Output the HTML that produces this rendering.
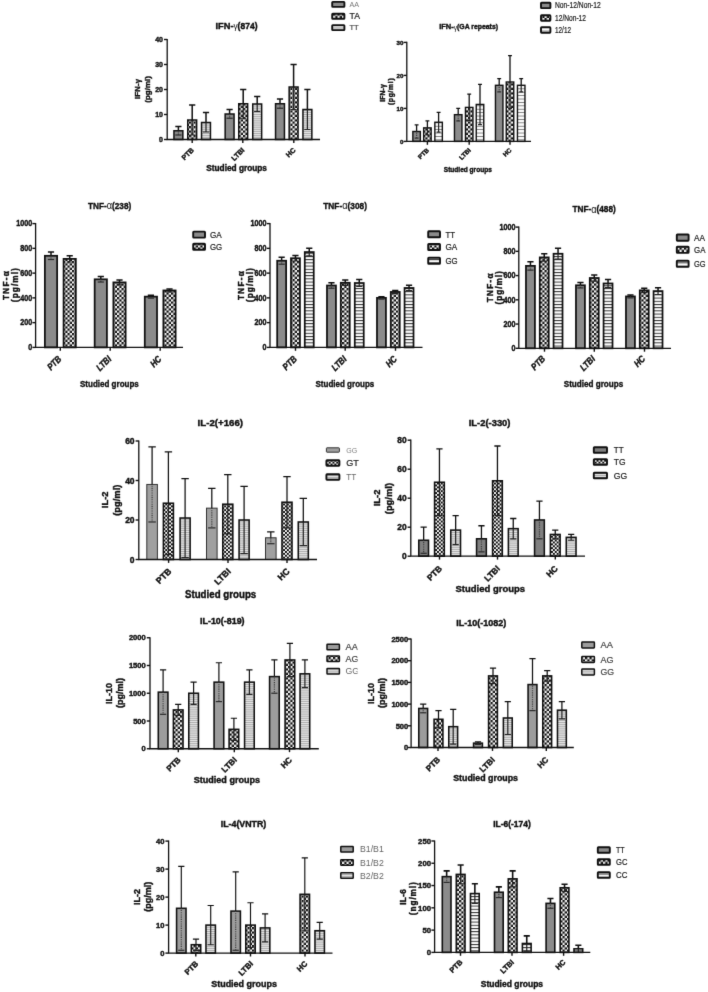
<!DOCTYPE html>
<html lang="en">
<head>
<meta charset="utf-8">
<title>Cytokine levels by genotype in studied groups</title>
<style>
html,body{margin:0;padding:0;background:#ffffff;}
body{width:708px;height:992px;overflow:hidden;font-family:"Liberation Sans",sans-serif;}
svg{display:block;}
</style>
</head>
<body>
<svg width="708" height="992" viewBox="0 0 708 992" font-family='"Liberation Sans", sans-serif'>
<defs>
<filter id="soft" x="0" y="0" width="708" height="992" filterUnits="userSpaceOnUse" color-interpolation-filters="sRGB"><feConvolveMatrix order="3" kernelMatrix="0.012 0.11 0.012 0.11 1 0.11 0.012 0.11 0.012" edgeMode="duplicate" preserveAlpha="true"/></filter>
<pattern id="checker" width="3.8" height="3.8" patternUnits="userSpaceOnUse"><rect width="3.8" height="3.8" fill="#fcfcfc"/><rect x="0" y="0" width="1.9" height="1.9" fill="#0c0c0c"/><rect x="1.9" y="1.9" width="1.9" height="1.9" fill="#0c0c0c"/></pattern>
<pattern id="hfine" width="4" height="1.9" patternUnits="userSpaceOnUse"><rect width="4" height="1.9" fill="#e8e8e8"/><rect y="0" width="4" height="0.8" fill="#a2a2a2"/></pattern>
<pattern id="hmid" width="4" height="3.4" patternUnits="userSpaceOnUse"><rect width="4" height="3.4" fill="#fbfbfb"/><rect y="0" width="4" height="0.8" fill="#6e6e6e"/></pattern>
<pattern id="hwide" width="4" height="3.2" patternUnits="userSpaceOnUse"><rect width="4" height="3.2" fill="#fdfdfd"/><rect y="0" width="4" height="0.95" fill="#2a2a2a"/></pattern>
<pattern id="hwide2" width="4" height="4.4" patternUnits="userSpaceOnUse"><rect width="4" height="4.4" fill="#fdfdfd"/><rect y="0" width="4" height="1.0" fill="#333"/></pattern>
<pattern id="checkerL" width="4.5" height="4.5" patternUnits="userSpaceOnUse"><rect width="4.5" height="4.5" fill="#fdfdfd"/><rect x="0" y="0" width="2.25" height="2.25" fill="#0a0a0a"/><rect x="2.25" y="2.25" width="2.25" height="2.25" fill="#0a0a0a"/></pattern>
</defs>
<g filter="url(#soft)">
<rect width="708" height="992" fill="#ffffff"/>
<g>
<rect x="173.95" y="130.75" width="8.9" height="8.75" fill="#8b8b8b" stroke="#101010" stroke-width="1.5"/>
<path d="M178.4 130.75 V126.5 M175.3 126.5 H181.5" stroke="#101010" stroke-width="1.5" fill="none"/>
<path d="M178.4 130.75 V135" stroke="#3a3a3a" stroke-width="1.2" stroke-dasharray="0.9 0.9" fill="none"/>
<path d="M175.3 135 H181.5" stroke="#2a2a2a" stroke-width="1.2" fill="none"/>
<rect x="187.75" y="120" width="8.9" height="19.5" fill="url(#checkerL)" stroke="#101010" stroke-width="1.5"/>
<path d="M192.2 120 V105 M189.1 105 H195.3" stroke="#101010" stroke-width="1.5" fill="none"/>
<path d="M192.2 120 V135 M189.1 135 H195.3" stroke="#222" stroke-width="1.2" fill="none"/>
<rect x="201.55" y="122.5" width="8.9" height="17" fill="url(#hfine)" stroke="#101010" stroke-width="1.5"/>
<path d="M206 122.5 V112.5 M202.9 112.5 H209.1" stroke="#101010" stroke-width="1.5" fill="none"/>
<path d="M206 122.5 V132 M202.9 132 H209.1" stroke="#222" stroke-width="1.2" fill="none"/>
<rect x="225.15" y="114" width="8.9" height="25.5" fill="#8b8b8b" stroke="#101010" stroke-width="1.5"/>
<path d="M229.6 114 V109.5 M226.5 109.5 H232.7" stroke="#101010" stroke-width="1.5" fill="none"/>
<path d="M229.6 114 V118.25" stroke="#3a3a3a" stroke-width="1.2" stroke-dasharray="0.9 0.9" fill="none"/>
<path d="M226.5 118.25 H232.7" stroke="#2a2a2a" stroke-width="1.2" fill="none"/>
<rect x="238.75" y="103.75" width="8.9" height="35.75" fill="url(#checkerL)" stroke="#101010" stroke-width="1.5"/>
<path d="M243.2 103.75 V89.5 M240.1 89.5 H246.3" stroke="#101010" stroke-width="1.5" fill="none"/>
<path d="M243.2 103.75 V118.25 M240.1 118.25 H246.3" stroke="#222" stroke-width="1.2" fill="none"/>
<rect x="252.75" y="104" width="8.9" height="35.5" fill="url(#hfine)" stroke="#101010" stroke-width="1.5"/>
<path d="M257.2 104 V96.5 M254.1 96.5 H260.3" stroke="#101010" stroke-width="1.5" fill="none"/>
<path d="M257.2 104 V111.5 M254.1 111.5 H260.3" stroke="#222" stroke-width="1.2" fill="none"/>
<rect x="275.55" y="103.75" width="8.9" height="35.75" fill="#8b8b8b" stroke="#101010" stroke-width="1.5"/>
<path d="M280 103.75 V99 M276.9 99 H283.1" stroke="#101010" stroke-width="1.5" fill="none"/>
<path d="M280 103.75 V108.25" stroke="#3a3a3a" stroke-width="1.2" stroke-dasharray="0.9 0.9" fill="none"/>
<path d="M276.9 108.25 H283.1" stroke="#2a2a2a" stroke-width="1.2" fill="none"/>
<rect x="289.15" y="87" width="8.9" height="52.5" fill="url(#checkerL)" stroke="#101010" stroke-width="1.5"/>
<path d="M293.6 87 V64.5 M290.5 64.5 H296.7" stroke="#101010" stroke-width="1.5" fill="none"/>
<path d="M293.6 87 V109.5 M290.5 109.5 H296.7" stroke="#222" stroke-width="1.2" fill="none"/>
<rect x="302.95" y="109.5" width="8.9" height="30" fill="url(#hfine)" stroke="#101010" stroke-width="1.5"/>
<path d="M307.4 109.5 V89.5 M304.3 89.5 H310.5" stroke="#101010" stroke-width="1.5" fill="none"/>
<path d="M307.4 109.5 V129.5 M304.3 129.5 H310.5" stroke="#222" stroke-width="1.2" fill="none"/>
<path d="M167.2 38.9 V139.5 H320" stroke="#101010" stroke-width="1.3" fill="none"/>
<path d="M164 139.5 H167.2" stroke="#101010" stroke-width="1.4"/>
<text x="163" y="142.02" font-size="7" font-weight="bold" text-anchor="end" fill="#101010" stroke="#101010" stroke-width="0.4">0</text>
<path d="M164 114.5 H167.2" stroke="#101010" stroke-width="1.4"/>
<text x="163" y="117.02" font-size="7" font-weight="bold" text-anchor="end" fill="#101010" stroke="#101010" stroke-width="0.4">10</text>
<path d="M164 89.5 H167.2" stroke="#101010" stroke-width="1.4"/>
<text x="163" y="92.02" font-size="7" font-weight="bold" text-anchor="end" fill="#101010" stroke="#101010" stroke-width="0.4">20</text>
<path d="M164 64.5 H167.2" stroke="#101010" stroke-width="1.4"/>
<text x="163" y="67.02" font-size="7" font-weight="bold" text-anchor="end" fill="#101010" stroke="#101010" stroke-width="0.4">30</text>
<path d="M164 39.5 H167.2" stroke="#101010" stroke-width="1.4"/>
<text x="163" y="42.02" font-size="7" font-weight="bold" text-anchor="end" fill="#101010" stroke="#101010" stroke-width="0.4">40</text>
<path d="M192.2 139.5 V142.9" stroke="#101010" stroke-width="1.4"/>
<text transform="translate(194.4 150.6) rotate(-45)" font-size="7" font-weight="bold" text-anchor="end" fill="#101010" stroke="#101010" stroke-width="0.4">PTB</text>
<path d="M242.8 139.5 V142.9" stroke="#101010" stroke-width="1.4"/>
<text transform="translate(245 150.6) rotate(-45)" font-size="7" font-weight="bold" text-anchor="end" fill="#101010" stroke="#101010" stroke-width="0.4">LTBI</text>
<path d="M293.8 139.5 V142.9" stroke="#101010" stroke-width="1.4"/>
<text transform="translate(296 150.6) rotate(-45)" font-size="7" font-weight="bold" text-anchor="end" fill="#101010" stroke="#101010" stroke-width="0.4">HC</text>
<text x="215.5" y="28.81" font-size="9.2" font-weight="bold" text-anchor="start" fill="#101010" textLength="17.98" lengthAdjust="spacingAndGlyphs" stroke="#101010" stroke-width="0.4">IFN-</text>
<text x="233.48" y="29.21" font-size="8.28" font-weight="normal" text-anchor="start" fill="#101010" textLength="4.16" lengthAdjust="spacingAndGlyphs">γ</text>
<text x="237.64" y="28.81" font-size="8.46" font-weight="bold" text-anchor="start" fill="#101010" textLength="19.86" lengthAdjust="spacingAndGlyphs" stroke="#101010" stroke-width="0.4">(874)</text>
<text transform="translate(139.61 89) rotate(-90)" font-size="7.8" font-weight="bold" text-anchor="middle" fill="#101010" textLength="20" lengthAdjust="spacing" stroke="#101010" stroke-width="0.4">IFN-γ</text>
<text transform="translate(149.51 89.4) rotate(-90)" font-size="7.8" font-weight="bold" text-anchor="middle" fill="#101010" textLength="26.7" lengthAdjust="spacing" stroke="#101010" stroke-width="0.4">(pg/ml)</text>
<text x="236.6" y="170.6" font-size="8.52" font-weight="bold" text-anchor="middle" fill="#101010" textLength="60.7" lengthAdjust="spacingAndGlyphs" stroke="#101010" stroke-width="0.4">Studied groups</text>
<rect x="332.2" y="1.9" width="12.2" height="5" rx="0.6" fill="#8b8b8b" stroke="#101010" stroke-width="1.9"/>
<text x="349.5" y="6.78" font-size="6.6" font-weight="normal" text-anchor="start" fill="#777" textLength="9.5" lengthAdjust="spacingAndGlyphs">AA</text>
<rect x="332.2" y="13.8" width="12.2" height="5" rx="0.6" fill="url(#checkerL)" stroke="#101010" stroke-width="1.9"/>
<text x="349.5" y="19.25" font-size="8.2" font-weight="normal" text-anchor="start" fill="#1a1a1a" textLength="10.4" lengthAdjust="spacingAndGlyphs" stroke="#1a1a1a" stroke-width="0.2">TA</text>
<rect x="332.2" y="25.1" width="12.2" height="5" rx="0.6" fill="url(#hfine)" stroke="#101010" stroke-width="1.9"/>
<text x="349.5" y="30.48" font-size="8" font-weight="normal" text-anchor="start" fill="#444" textLength="9.2" lengthAdjust="spacingAndGlyphs" stroke="#444" stroke-width="0.2">TT</text>
</g>
<g>
<rect x="412.85" y="131.5" width="7.5" height="9.9" fill="#8b8b8b" stroke="#101010" stroke-width="1.4"/>
<path d="M416.6 131.5 V124.9 M414.65 124.9 H418.55" stroke="#101010" stroke-width="1.3" fill="none"/>
<path d="M416.6 131.5 V138.1" stroke="#3a3a3a" stroke-width="1.2" stroke-dasharray="0.9 0.9" fill="none"/>
<path d="M414.65 138.1 H418.55" stroke="#2a2a2a" stroke-width="1.2" fill="none"/>
<rect x="423.65" y="127.87" width="7.5" height="13.53" fill="url(#checkerL)" stroke="#101010" stroke-width="1.4"/>
<path d="M427.4 127.87 V120.94 M425.45 120.94 H429.35" stroke="#101010" stroke-width="1.3" fill="none"/>
<path d="M427.4 127.87 V134.8 M425.45 134.8 H429.35" stroke="#222" stroke-width="1.2" fill="none"/>
<rect x="434.85" y="122.26" width="7.5" height="19.14" fill="url(#hmid)" stroke="#101010" stroke-width="1.4"/>
<path d="M438.6 122.26 V112.36 M436.65 112.36 H440.55" stroke="#101010" stroke-width="1.3" fill="none"/>
<path d="M438.6 122.26 V132.16 M436.65 132.16 H440.55" stroke="#222" stroke-width="1.2" fill="none"/>
<rect x="454.45" y="114.67" width="7.5" height="26.73" fill="#8b8b8b" stroke="#101010" stroke-width="1.4"/>
<path d="M458.2 114.67 V108.4 M456.25 108.4 H460.15" stroke="#101010" stroke-width="1.3" fill="none"/>
<path d="M458.2 114.67 V120.94" stroke="#3a3a3a" stroke-width="1.2" stroke-dasharray="0.9 0.9" fill="none"/>
<path d="M456.25 120.94 H460.15" stroke="#2a2a2a" stroke-width="1.2" fill="none"/>
<rect x="465.45" y="107.41" width="7.5" height="33.99" fill="url(#checkerL)" stroke="#101010" stroke-width="1.4"/>
<path d="M469.2 107.41 V94.21 M467.25 94.21 H471.15" stroke="#101010" stroke-width="1.3" fill="none"/>
<path d="M469.2 107.41 V120.61 M467.25 120.61 H471.15" stroke="#222" stroke-width="1.2" fill="none"/>
<rect x="476.25" y="104.44" width="7.5" height="36.96" fill="url(#hmid)" stroke="#101010" stroke-width="1.4"/>
<path d="M480 104.44 V84.31 M478.05 84.31 H481.95" stroke="#101010" stroke-width="1.3" fill="none"/>
<path d="M480 104.44 V124.57 M478.05 124.57 H481.95" stroke="#222" stroke-width="1.2" fill="none"/>
<rect x="495.45" y="85.3" width="7.5" height="56.1" fill="#8b8b8b" stroke="#101010" stroke-width="1.4"/>
<path d="M499.2 85.3 V78.7 M497.25 78.7 H501.15" stroke="#101010" stroke-width="1.3" fill="none"/>
<path d="M499.2 85.3 V91.9" stroke="#3a3a3a" stroke-width="1.2" stroke-dasharray="0.9 0.9" fill="none"/>
<path d="M497.25 91.9 H501.15" stroke="#2a2a2a" stroke-width="1.2" fill="none"/>
<rect x="506.25" y="82" width="7.5" height="59.4" fill="url(#checkerL)" stroke="#101010" stroke-width="1.4"/>
<path d="M510 82 V55.6 M508.05 55.6 H511.95" stroke="#101010" stroke-width="1.3" fill="none"/>
<path d="M510 82 V108.4 M508.05 108.4 H511.95" stroke="#222" stroke-width="1.2" fill="none"/>
<rect x="517.45" y="85.3" width="7.5" height="56.1" fill="url(#hmid)" stroke="#101010" stroke-width="1.4"/>
<path d="M521.2 85.3 V78.7 M519.25 78.7 H523.15" stroke="#101010" stroke-width="1.3" fill="none"/>
<path d="M521.2 85.3 V91.9 M519.25 91.9 H523.15" stroke="#222" stroke-width="1.2" fill="none"/>
<path d="M406.8 41.8 V141.4 H531" stroke="#101010" stroke-width="1.3" fill="none"/>
<path d="M403.6 141.4 H406.8" stroke="#101010" stroke-width="1.4"/>
<text x="403.5" y="143.63" font-size="6.2" font-weight="bold" text-anchor="end" fill="#101010" stroke="#101010" stroke-width="0.4">0</text>
<path d="M403.6 108.4 H406.8" stroke="#101010" stroke-width="1.4"/>
<text x="403.5" y="110.63" font-size="6.2" font-weight="bold" text-anchor="end" fill="#101010" stroke="#101010" stroke-width="0.4">10</text>
<path d="M403.6 75.4 H406.8" stroke="#101010" stroke-width="1.4"/>
<text x="403.5" y="77.63" font-size="6.2" font-weight="bold" text-anchor="end" fill="#101010" stroke="#101010" stroke-width="0.4">20</text>
<path d="M403.6 42.4 H406.8" stroke="#101010" stroke-width="1.4"/>
<text x="403.5" y="44.63" font-size="6.2" font-weight="bold" text-anchor="end" fill="#101010" stroke="#101010" stroke-width="0.4">30</text>
<path d="M427.4 141.4 V144.8" stroke="#101010" stroke-width="1.4"/>
<text transform="translate(429.4 150.7) rotate(-45)" font-size="6.24" font-weight="bold" text-anchor="end" fill="#101010" stroke="#101010" stroke-width="0.4">PTB</text>
<path d="M469.2 141.4 V144.8" stroke="#101010" stroke-width="1.4"/>
<text transform="translate(471.2 150.7) rotate(-45)" font-size="6.24" font-weight="bold" text-anchor="end" fill="#101010" stroke="#101010" stroke-width="0.4">LTBI</text>
<path d="M510 141.4 V144.8" stroke="#101010" stroke-width="1.4"/>
<text transform="translate(512 150.7) rotate(-45)" font-size="6.24" font-weight="bold" text-anchor="end" fill="#101010" stroke="#101010" stroke-width="0.4">HC</text>
<text x="439.2" y="29.44" font-size="7.9" font-weight="bold" text-anchor="start" fill="#101010" textLength="14.5" lengthAdjust="spacingAndGlyphs" stroke="#101010" stroke-width="0.4">IFN-</text>
<text x="453.7" y="29.84" font-size="7.11" font-weight="normal" text-anchor="start" fill="#101010" textLength="3.36" lengthAdjust="spacingAndGlyphs">γ</text>
<text x="457.06" y="29.44" font-size="7.27" font-weight="bold" text-anchor="start" fill="#101010" textLength="40.94" lengthAdjust="spacingAndGlyphs" stroke="#101010" stroke-width="0.4">(GA repeats)</text>
<text transform="translate(384.75 93) rotate(-90)" font-size="6.8" font-weight="bold" text-anchor="middle" fill="#101010" textLength="17.6" lengthAdjust="spacing" stroke="#101010" stroke-width="0.4">IFN-γ</text>
<text transform="translate(393.25 91.7) rotate(-90)" font-size="6.8" font-weight="bold" text-anchor="middle" fill="#101010" textLength="26.8" lengthAdjust="spacing" stroke="#101010" stroke-width="0.4">(pg/ml)</text>
<text x="467.8" y="172" font-size="6.74" font-weight="bold" text-anchor="middle" fill="#101010" textLength="48" lengthAdjust="spacingAndGlyphs" stroke="#101010" stroke-width="0.4">Studied groups</text>
<rect x="541" y="2.7" width="9.4" height="5.4" rx="0.6" fill="#8b8b8b" stroke="#101010" stroke-width="1.9"/>
<text x="555" y="8.35" font-size="8.2" font-weight="normal" text-anchor="start" fill="#1a1a1a" textLength="45.8" lengthAdjust="spacingAndGlyphs" stroke="#1a1a1a" stroke-width="0.2">Non-12/Non-12</text>
<rect x="541" y="15.3" width="9.4" height="5.4" rx="0.6" fill="url(#checkerL)" stroke="#101010" stroke-width="1.9"/>
<text x="555" y="20.95" font-size="8.2" font-weight="normal" text-anchor="start" fill="#1a1a1a" textLength="31" lengthAdjust="spacingAndGlyphs" stroke="#1a1a1a" stroke-width="0.2">12/Non-12</text>
<rect x="541" y="27.3" width="9.4" height="5.4" rx="0.6" fill="url(#hmid)" stroke="#101010" stroke-width="1.9"/>
<text x="555" y="32.95" font-size="8.2" font-weight="normal" text-anchor="start" fill="#1a1a1a" textLength="16" lengthAdjust="spacingAndGlyphs" stroke="#1a1a1a" stroke-width="0.2">12/12</text>
</g>
<g>
<rect x="44.88" y="255.79" width="12.25" height="91.61" fill="#8b8b8b" stroke="#101010" stroke-width="1.75"/>
<path d="M51 255.79 V252.07 M47.9 252.07 H54.1" stroke="#101010" stroke-width="1.5" fill="none"/>
<path d="M51 255.79 V259.5" stroke="#3a3a3a" stroke-width="1.2" stroke-dasharray="0.9 0.9" fill="none"/>
<path d="M47.9 259.5 H54.1" stroke="#2a2a2a" stroke-width="1.2" fill="none"/>
<rect x="63.58" y="258.88" width="12.25" height="88.52" fill="url(#checkerL)" stroke="#101010" stroke-width="1.75"/>
<path d="M69.7 258.88 V255.79 M66.6 255.79 H72.8" stroke="#101010" stroke-width="1.5" fill="none"/>
<path d="M69.7 258.88 V261.98 M66.6 261.98 H72.8" stroke="#222" stroke-width="1.2" fill="none"/>
<rect x="94.67" y="279.31" width="12.25" height="68.09" fill="#8b8b8b" stroke="#101010" stroke-width="1.75"/>
<path d="M100.8 279.31 V276.59 M97.7 276.59 H103.9" stroke="#101010" stroke-width="1.5" fill="none"/>
<path d="M100.8 279.31 V282.03" stroke="#3a3a3a" stroke-width="1.2" stroke-dasharray="0.9 0.9" fill="none"/>
<path d="M97.7 282.03 H103.9" stroke="#2a2a2a" stroke-width="1.2" fill="none"/>
<rect x="113.38" y="282.4" width="12.25" height="65" fill="url(#checkerL)" stroke="#101010" stroke-width="1.75"/>
<path d="M119.5 282.4 V279.93 M116.4 279.93 H122.6" stroke="#101010" stroke-width="1.5" fill="none"/>
<path d="M119.5 282.4 V284.88 M116.4 284.88 H122.6" stroke="#222" stroke-width="1.2" fill="none"/>
<rect x="144.78" y="296.64" width="12.25" height="50.76" fill="#8b8b8b" stroke="#101010" stroke-width="1.75"/>
<path d="M150.9 296.64 V295.16 M147.8 295.16 H154" stroke="#101010" stroke-width="1.5" fill="none"/>
<path d="M150.9 296.64 V298.13" stroke="#3a3a3a" stroke-width="1.2" stroke-dasharray="0.9 0.9" fill="none"/>
<path d="M147.8 298.13 H154" stroke="#2a2a2a" stroke-width="1.2" fill="none"/>
<rect x="163.38" y="290.45" width="12.25" height="56.95" fill="url(#checkerL)" stroke="#101010" stroke-width="1.75"/>
<path d="M169.5 290.45 V288.97 M166.4 288.97 H172.6" stroke="#101010" stroke-width="1.5" fill="none"/>
<path d="M169.5 290.45 V291.94 M166.4 291.94 H172.6" stroke="#222" stroke-width="1.2" fill="none"/>
<path d="M35.6 223 V347.4 H183" stroke="#101010" stroke-width="1.3" fill="none"/>
<path d="M32.4 347.4 H35.6" stroke="#101010" stroke-width="1.4"/>
<text x="32.2" y="350.19" font-size="8.57" font-weight="bold" text-anchor="end" fill="#101010" textLength="4" lengthAdjust="spacingAndGlyphs" stroke="#101010" stroke-width="0.4">0</text>
<path d="M32.4 322.64 H35.6" stroke="#101010" stroke-width="1.4"/>
<text x="32.2" y="325.43" font-size="8.57" font-weight="bold" text-anchor="end" fill="#101010" textLength="12.01" lengthAdjust="spacingAndGlyphs" stroke="#101010" stroke-width="0.4">200</text>
<path d="M32.4 297.88 H35.6" stroke="#101010" stroke-width="1.4"/>
<text x="32.2" y="300.67" font-size="8.57" font-weight="bold" text-anchor="end" fill="#101010" textLength="12.01" lengthAdjust="spacingAndGlyphs" stroke="#101010" stroke-width="0.4">400</text>
<path d="M32.4 273.12 H35.6" stroke="#101010" stroke-width="1.4"/>
<text x="32.2" y="275.91" font-size="8.57" font-weight="bold" text-anchor="end" fill="#101010" textLength="12.01" lengthAdjust="spacingAndGlyphs" stroke="#101010" stroke-width="0.4">600</text>
<path d="M32.4 248.36 H35.6" stroke="#101010" stroke-width="1.4"/>
<text x="32.2" y="251.15" font-size="8.57" font-weight="bold" text-anchor="end" fill="#101010" textLength="12.01" lengthAdjust="spacingAndGlyphs" stroke="#101010" stroke-width="0.4">800</text>
<path d="M32.4 223.6 H35.6" stroke="#101010" stroke-width="1.4"/>
<text x="32.2" y="226.39" font-size="8.57" font-weight="bold" text-anchor="end" fill="#101010" textLength="16.02" lengthAdjust="spacingAndGlyphs" stroke="#101010" stroke-width="0.4">1000</text>
<path d="M60.3 347.4 V350.8" stroke="#101010" stroke-width="1.4"/>
<text transform="translate(62.05 359.6) rotate(-45)" font-size="9.4" font-weight="bold" text-anchor="end" fill="#101010" textLength="15.8" lengthAdjust="spacingAndGlyphs" stroke="#101010" stroke-width="0.4" font-style="italic">PTB</text>
<path d="M110.2 347.4 V350.8" stroke="#101010" stroke-width="1.4"/>
<text transform="translate(111.95 359.6) rotate(-45)" font-size="9.4" font-weight="bold" text-anchor="end" fill="#101010" textLength="16.96" lengthAdjust="spacingAndGlyphs" stroke="#101010" stroke-width="0.4" font-style="italic">LTBI</text>
<path d="M160.2 347.4 V350.8" stroke="#101010" stroke-width="1.4"/>
<text transform="translate(161.95 359.6) rotate(-45)" font-size="9.4" font-weight="bold" text-anchor="end" fill="#101010" textLength="11.41" lengthAdjust="spacingAndGlyphs" stroke="#101010" stroke-width="0.4" font-style="italic">HC</text>
<text x="87.95" y="208.66" font-size="9.6" font-weight="bold" text-anchor="start" fill="#101010" textLength="18.75" lengthAdjust="spacingAndGlyphs" stroke="#101010" stroke-width="0.4">TNF-</text>
<text x="106.7" y="209.06" font-size="10.75" font-weight="normal" text-anchor="start" fill="#101010" textLength="5.33" lengthAdjust="spacingAndGlyphs">α</text>
<text x="112.03" y="208.66" font-size="9.6" font-weight="bold" text-anchor="start" fill="#101010" textLength="19.22" lengthAdjust="spacingAndGlyphs" stroke="#101010" stroke-width="0.4">(238)</text>
<text transform="translate(9.25 285.6) rotate(-90)" font-size="8.2" font-weight="bold" text-anchor="middle" fill="#101010" textLength="28.8" lengthAdjust="spacing" stroke="#101010" stroke-width="0.4">TNF-α</text>
<text transform="translate(18.05 285.2) rotate(-90)" font-size="8.2" font-weight="bold" text-anchor="middle" fill="#101010" textLength="34" lengthAdjust="spacing" stroke="#101010" stroke-width="0.4">(pg/ml)</text>
<text x="109.4" y="386.5" font-size="9.83" font-weight="bold" text-anchor="middle" fill="#101010" textLength="58.8" lengthAdjust="spacingAndGlyphs" stroke="#101010" stroke-width="0.4">Studied groups</text>
<rect x="193.2" y="231.6" width="11.8" height="6" rx="0.6" fill="#8b8b8b" stroke="#101010" stroke-width="1.9"/>
<text x="210" y="237.84" font-size="9" font-weight="normal" text-anchor="start" fill="#1a1a1a" textLength="11.8" lengthAdjust="spacingAndGlyphs" stroke="#1a1a1a" stroke-width="0.2">GA</text>
<rect x="193.2" y="243.8" width="11.8" height="6" rx="0.6" fill="url(#checkerL)" stroke="#101010" stroke-width="1.9"/>
<text x="210" y="250.04" font-size="9" font-weight="normal" text-anchor="start" fill="#1a1a1a" textLength="12.2" lengthAdjust="spacingAndGlyphs" stroke="#1a1a1a" stroke-width="0.2">GG</text>
</g>
<g>
<rect x="277.18" y="260.74" width="8.95" height="86.66" fill="#8b8b8b" stroke="#101010" stroke-width="1.75"/>
<path d="M281.65 260.74 V257.27 M278.55 257.27 H284.75" stroke="#101010" stroke-width="1.5" fill="none"/>
<path d="M281.65 260.74 V264.21" stroke="#3a3a3a" stroke-width="1.2" stroke-dasharray="0.9 0.9" fill="none"/>
<path d="M278.55 264.21 H284.75" stroke="#2a2a2a" stroke-width="1.2" fill="none"/>
<rect x="290.98" y="258.26" width="8.95" height="89.14" fill="url(#checkerL)" stroke="#101010" stroke-width="1.75"/>
<path d="M295.45 258.26 V255.54 M292.35 255.54 H298.55" stroke="#101010" stroke-width="1.5" fill="none"/>
<path d="M295.45 258.26 V260.99 M292.35 260.99 H298.55" stroke="#222" stroke-width="1.2" fill="none"/>
<rect x="304.78" y="252.07" width="8.95" height="95.33" fill="url(#hwide)" stroke="#101010" stroke-width="1.75"/>
<path d="M309.25 252.07 V248.36 M306.15 248.36 H312.35" stroke="#101010" stroke-width="1.5" fill="none"/>
<path d="M309.25 252.07 V255.79 M306.15 255.79 H312.35" stroke="#222" stroke-width="1.2" fill="none"/>
<rect x="326.98" y="285.5" width="8.95" height="61.9" fill="#8b8b8b" stroke="#101010" stroke-width="1.75"/>
<path d="M331.45 285.5 V282.78 M328.35 282.78 H334.55" stroke="#101010" stroke-width="1.5" fill="none"/>
<path d="M331.45 285.5 V288.22" stroke="#3a3a3a" stroke-width="1.2" stroke-dasharray="0.9 0.9" fill="none"/>
<path d="M328.35 288.22 H334.55" stroke="#2a2a2a" stroke-width="1.2" fill="none"/>
<rect x="340.78" y="282.78" width="8.95" height="64.62" fill="url(#checkerL)" stroke="#101010" stroke-width="1.75"/>
<path d="M345.25 282.78 V280.05 M342.15 280.05 H348.35" stroke="#101010" stroke-width="1.5" fill="none"/>
<path d="M345.25 282.78 V285.5 M342.15 285.5 H348.35" stroke="#222" stroke-width="1.2" fill="none"/>
<rect x="354.78" y="283.02" width="8.95" height="64.38" fill="url(#hwide)" stroke="#101010" stroke-width="1.75"/>
<path d="M359.25 283.02 V279.56 M356.15 279.56 H362.35" stroke="#101010" stroke-width="1.5" fill="none"/>
<path d="M359.25 283.02 V286.49 M356.15 286.49 H362.35" stroke="#222" stroke-width="1.2" fill="none"/>
<rect x="376.98" y="297.88" width="8.95" height="49.52" fill="#8b8b8b" stroke="#101010" stroke-width="1.75"/>
<path d="M381.45 297.88 V296.64 M378.35 296.64 H384.55" stroke="#101010" stroke-width="1.5" fill="none"/>
<path d="M381.45 297.88 V299.12" stroke="#3a3a3a" stroke-width="1.2" stroke-dasharray="0.9 0.9" fill="none"/>
<path d="M378.35 299.12 H384.55" stroke="#2a2a2a" stroke-width="1.2" fill="none"/>
<rect x="390.78" y="291.94" width="8.95" height="55.46" fill="url(#checkerL)" stroke="#101010" stroke-width="1.75"/>
<path d="M395.25 291.94 V290.45 M392.15 290.45 H398.35" stroke="#101010" stroke-width="1.5" fill="none"/>
<path d="M395.25 291.94 V293.42 M392.15 293.42 H398.35" stroke="#222" stroke-width="1.2" fill="none"/>
<rect x="404.57" y="287.98" width="8.95" height="59.42" fill="url(#hwide)" stroke="#101010" stroke-width="1.75"/>
<path d="M409.05 287.98 V285.25 M405.95 285.25 H412.15" stroke="#101010" stroke-width="1.5" fill="none"/>
<path d="M409.05 287.98 V290.7 M405.95 290.7 H412.15" stroke="#222" stroke-width="1.2" fill="none"/>
<path d="M270 223 V347.4 H422.5" stroke="#101010" stroke-width="1.3" fill="none"/>
<path d="M266.8 347.4 H270" stroke="#101010" stroke-width="1.4"/>
<text x="266.6" y="350.19" font-size="8.57" font-weight="bold" text-anchor="end" fill="#101010" textLength="4" lengthAdjust="spacingAndGlyphs" stroke="#101010" stroke-width="0.4">0</text>
<path d="M266.8 322.64 H270" stroke="#101010" stroke-width="1.4"/>
<text x="266.6" y="325.43" font-size="8.57" font-weight="bold" text-anchor="end" fill="#101010" textLength="12.01" lengthAdjust="spacingAndGlyphs" stroke="#101010" stroke-width="0.4">200</text>
<path d="M266.8 297.88 H270" stroke="#101010" stroke-width="1.4"/>
<text x="266.6" y="300.67" font-size="8.57" font-weight="bold" text-anchor="end" fill="#101010" textLength="12.01" lengthAdjust="spacingAndGlyphs" stroke="#101010" stroke-width="0.4">400</text>
<path d="M266.8 273.12 H270" stroke="#101010" stroke-width="1.4"/>
<text x="266.6" y="275.91" font-size="8.57" font-weight="bold" text-anchor="end" fill="#101010" textLength="12.01" lengthAdjust="spacingAndGlyphs" stroke="#101010" stroke-width="0.4">600</text>
<path d="M266.8 248.36 H270" stroke="#101010" stroke-width="1.4"/>
<text x="266.6" y="251.15" font-size="8.57" font-weight="bold" text-anchor="end" fill="#101010" textLength="12.01" lengthAdjust="spacingAndGlyphs" stroke="#101010" stroke-width="0.4">800</text>
<path d="M266.8 223.6 H270" stroke="#101010" stroke-width="1.4"/>
<text x="266.6" y="226.39" font-size="8.57" font-weight="bold" text-anchor="end" fill="#101010" textLength="16.02" lengthAdjust="spacingAndGlyphs" stroke="#101010" stroke-width="0.4">1000</text>
<path d="M295.5 347.4 V350.8" stroke="#101010" stroke-width="1.4"/>
<text transform="translate(297.5 359.6) rotate(-45)" font-size="9.4" font-weight="bold" text-anchor="end" fill="#101010" textLength="15.8" lengthAdjust="spacingAndGlyphs" stroke="#101010" stroke-width="0.4" font-style="italic">PTB</text>
<path d="M345.2 347.4 V350.8" stroke="#101010" stroke-width="1.4"/>
<text transform="translate(347.2 359.6) rotate(-45)" font-size="9.4" font-weight="bold" text-anchor="end" fill="#101010" textLength="16.96" lengthAdjust="spacingAndGlyphs" stroke="#101010" stroke-width="0.4" font-style="italic">LTBI</text>
<path d="M395.5 347.4 V350.8" stroke="#101010" stroke-width="1.4"/>
<text transform="translate(397.5 359.6) rotate(-45)" font-size="9.4" font-weight="bold" text-anchor="end" fill="#101010" textLength="11.41" lengthAdjust="spacingAndGlyphs" stroke="#101010" stroke-width="0.4" font-style="italic">HC</text>
<text x="323.3" y="208.66" font-size="9.6" font-weight="bold" text-anchor="start" fill="#101010" textLength="18.88" lengthAdjust="spacingAndGlyphs" stroke="#101010" stroke-width="0.4">TNF-</text>
<text x="342.18" y="209.06" font-size="10.75" font-weight="normal" text-anchor="start" fill="#101010" textLength="5.37" lengthAdjust="spacingAndGlyphs">α</text>
<text x="347.55" y="208.66" font-size="9.6" font-weight="bold" text-anchor="start" fill="#101010" textLength="19.35" lengthAdjust="spacingAndGlyphs" stroke="#101010" stroke-width="0.4">(308)</text>
<text transform="translate(243.85 285.6) rotate(-90)" font-size="8.2" font-weight="bold" text-anchor="middle" fill="#101010" textLength="28.8" lengthAdjust="spacing" stroke="#101010" stroke-width="0.4">TNF-α</text>
<text transform="translate(252.95 285.2) rotate(-90)" font-size="8.2" font-weight="bold" text-anchor="middle" fill="#101010" textLength="34" lengthAdjust="spacing" stroke="#101010" stroke-width="0.4">(pg/ml)</text>
<text x="344.9" y="386.8" font-size="9.83" font-weight="bold" text-anchor="middle" fill="#101010" textLength="58.8" lengthAdjust="spacingAndGlyphs" stroke="#101010" stroke-width="0.4">Studied groups</text>
<rect x="428.2" y="231.3" width="11.8" height="6" rx="0.6" fill="#8b8b8b" stroke="#101010" stroke-width="1.9"/>
<text x="445.5" y="237.54" font-size="9" font-weight="normal" text-anchor="start" fill="#1a1a1a" textLength="9.6" lengthAdjust="spacingAndGlyphs" stroke="#1a1a1a" stroke-width="0.2">TT</text>
<rect x="428.2" y="244" width="11.8" height="6" rx="0.6" fill="url(#checkerL)" stroke="#101010" stroke-width="1.9"/>
<text x="445.5" y="250.24" font-size="9" font-weight="normal" text-anchor="start" fill="#1a1a1a" textLength="11.8" lengthAdjust="spacingAndGlyphs" stroke="#1a1a1a" stroke-width="0.2">GA</text>
<rect x="428.2" y="257.8" width="11.8" height="6" rx="0.6" fill="url(#hwide)" stroke="#101010" stroke-width="1.9"/>
<text x="445.5" y="264.04" font-size="9" font-weight="normal" text-anchor="start" fill="#1a1a1a" textLength="12.2" lengthAdjust="spacingAndGlyphs" stroke="#1a1a1a" stroke-width="0.2">GG</text>
</g>
<g>
<rect x="525.97" y="265.88" width="8.95" height="82.42" fill="#8b8b8b" stroke="#101010" stroke-width="1.75"/>
<path d="M530.45 265.88 V261.64 M527.35 261.64 H533.55" stroke="#101010" stroke-width="1.5" fill="none"/>
<path d="M530.45 265.88 V270.13" stroke="#3a3a3a" stroke-width="1.2" stroke-dasharray="0.9 0.9" fill="none"/>
<path d="M527.35 270.13 H533.55" stroke="#2a2a2a" stroke-width="1.2" fill="none"/>
<rect x="539.77" y="257.4" width="8.95" height="90.9" fill="url(#checkerL)" stroke="#101010" stroke-width="1.75"/>
<path d="M544.25 257.4 V253.76 M541.15 253.76 H547.35" stroke="#101010" stroke-width="1.5" fill="none"/>
<path d="M544.25 257.4 V261.04 M541.15 261.04 H547.35" stroke="#222" stroke-width="1.2" fill="none"/>
<rect x="553.57" y="253.76" width="8.95" height="94.54" fill="url(#hwide)" stroke="#101010" stroke-width="1.75"/>
<path d="M558.05 253.76 V248.31 M554.95 248.31 H561.15" stroke="#101010" stroke-width="1.5" fill="none"/>
<path d="M558.05 253.76 V259.22 M554.95 259.22 H561.15" stroke="#222" stroke-width="1.2" fill="none"/>
<rect x="575.97" y="285.28" width="8.95" height="63.02" fill="#8b8b8b" stroke="#101010" stroke-width="1.75"/>
<path d="M580.45 285.28 V282.61 M577.35 282.61 H583.55" stroke="#101010" stroke-width="1.5" fill="none"/>
<path d="M580.45 285.28 V287.94" stroke="#3a3a3a" stroke-width="1.2" stroke-dasharray="0.9 0.9" fill="none"/>
<path d="M577.35 287.94 H583.55" stroke="#2a2a2a" stroke-width="1.2" fill="none"/>
<rect x="589.77" y="278" width="8.95" height="70.3" fill="url(#checkerL)" stroke="#101010" stroke-width="1.75"/>
<path d="M594.25 278 V274.97 M591.15 274.97 H597.35" stroke="#101010" stroke-width="1.5" fill="none"/>
<path d="M594.25 278 V281.03 M591.15 281.03 H597.35" stroke="#222" stroke-width="1.2" fill="none"/>
<rect x="603.57" y="283.46" width="8.95" height="64.84" fill="url(#hwide)" stroke="#101010" stroke-width="1.75"/>
<path d="M608.05 283.46 V279.58 M604.95 279.58 H611.15" stroke="#101010" stroke-width="1.5" fill="none"/>
<path d="M608.05 283.46 V287.34 M604.95 287.34 H611.15" stroke="#222" stroke-width="1.2" fill="none"/>
<rect x="625.97" y="296.43" width="8.95" height="51.87" fill="#8b8b8b" stroke="#101010" stroke-width="1.75"/>
<path d="M630.45 296.43 V294.97 M627.35 294.97 H633.55" stroke="#101010" stroke-width="1.5" fill="none"/>
<path d="M630.45 296.43 V297.88" stroke="#3a3a3a" stroke-width="1.2" stroke-dasharray="0.9 0.9" fill="none"/>
<path d="M627.35 297.88 H633.55" stroke="#2a2a2a" stroke-width="1.2" fill="none"/>
<rect x="639.77" y="290.37" width="8.95" height="57.93" fill="url(#checkerL)" stroke="#101010" stroke-width="1.75"/>
<path d="M644.25 290.37 V288.18 M641.15 288.18 H647.35" stroke="#101010" stroke-width="1.5" fill="none"/>
<path d="M644.25 290.37 V292.55 M641.15 292.55 H647.35" stroke="#222" stroke-width="1.2" fill="none"/>
<rect x="653.57" y="291.09" width="8.95" height="57.21" fill="url(#hwide)" stroke="#101010" stroke-width="1.75"/>
<path d="M658.05 291.09 V287.7 M654.95 287.7 H661.15" stroke="#101010" stroke-width="1.5" fill="none"/>
<path d="M658.05 291.09 V294.49 M654.95 294.49 H661.15" stroke="#222" stroke-width="1.2" fill="none"/>
<path d="M518.8 226.5 V348.3 H671" stroke="#101010" stroke-width="1.3" fill="none"/>
<path d="M515.6 348.3 H518.8" stroke="#101010" stroke-width="1.4"/>
<text x="515.4" y="351.09" font-size="8.57" font-weight="bold" text-anchor="end" fill="#101010" textLength="4" lengthAdjust="spacingAndGlyphs" stroke="#101010" stroke-width="0.4">0</text>
<path d="M515.6 324.06 H518.8" stroke="#101010" stroke-width="1.4"/>
<text x="515.4" y="326.85" font-size="8.57" font-weight="bold" text-anchor="end" fill="#101010" textLength="12.01" lengthAdjust="spacingAndGlyphs" stroke="#101010" stroke-width="0.4">200</text>
<path d="M515.6 299.82 H518.8" stroke="#101010" stroke-width="1.4"/>
<text x="515.4" y="302.61" font-size="8.57" font-weight="bold" text-anchor="end" fill="#101010" textLength="12.01" lengthAdjust="spacingAndGlyphs" stroke="#101010" stroke-width="0.4">400</text>
<path d="M515.6 275.58 H518.8" stroke="#101010" stroke-width="1.4"/>
<text x="515.4" y="278.37" font-size="8.57" font-weight="bold" text-anchor="end" fill="#101010" textLength="12.01" lengthAdjust="spacingAndGlyphs" stroke="#101010" stroke-width="0.4">600</text>
<path d="M515.6 251.34 H518.8" stroke="#101010" stroke-width="1.4"/>
<text x="515.4" y="254.13" font-size="8.57" font-weight="bold" text-anchor="end" fill="#101010" textLength="12.01" lengthAdjust="spacingAndGlyphs" stroke="#101010" stroke-width="0.4">800</text>
<path d="M515.6 227.1 H518.8" stroke="#101010" stroke-width="1.4"/>
<text x="515.4" y="229.89" font-size="8.57" font-weight="bold" text-anchor="end" fill="#101010" textLength="16.02" lengthAdjust="spacingAndGlyphs" stroke="#101010" stroke-width="0.4">1000</text>
<path d="M544.5 348.3 V351.7" stroke="#101010" stroke-width="1.4"/>
<text transform="translate(545.9 359.5) rotate(-45)" font-size="9.4" font-weight="bold" text-anchor="end" fill="#101010" textLength="15.8" lengthAdjust="spacingAndGlyphs" stroke="#101010" stroke-width="0.4" font-style="italic">PTB</text>
<path d="M594.3 348.3 V351.7" stroke="#101010" stroke-width="1.4"/>
<text transform="translate(595.7 359.5) rotate(-45)" font-size="9.4" font-weight="bold" text-anchor="end" fill="#101010" textLength="16.96" lengthAdjust="spacingAndGlyphs" stroke="#101010" stroke-width="0.4" font-style="italic">LTBI</text>
<path d="M644.5 348.3 V351.7" stroke="#101010" stroke-width="1.4"/>
<text transform="translate(645.9 359.5) rotate(-45)" font-size="9.4" font-weight="bold" text-anchor="end" fill="#101010" textLength="11.41" lengthAdjust="spacingAndGlyphs" stroke="#101010" stroke-width="0.4" font-style="italic">HC</text>
<text x="572.45" y="212.46" font-size="9.6" font-weight="bold" text-anchor="start" fill="#101010" textLength="18.75" lengthAdjust="spacingAndGlyphs" stroke="#101010" stroke-width="0.4">TNF-</text>
<text x="591.2" y="212.86" font-size="10.75" font-weight="normal" text-anchor="start" fill="#101010" textLength="5.33" lengthAdjust="spacingAndGlyphs">α</text>
<text x="596.53" y="212.46" font-size="9.6" font-weight="bold" text-anchor="start" fill="#101010" textLength="19.22" lengthAdjust="spacingAndGlyphs" stroke="#101010" stroke-width="0.4">(488)</text>
<text transform="translate(493.35 287.9) rotate(-90)" font-size="8.2" font-weight="bold" text-anchor="middle" fill="#101010" textLength="28.8" lengthAdjust="spacing" stroke="#101010" stroke-width="0.4">TNF-α</text>
<text transform="translate(502.15 287.9) rotate(-90)" font-size="8.2" font-weight="bold" text-anchor="middle" fill="#101010" textLength="33.3" lengthAdjust="spacing" stroke="#101010" stroke-width="0.4">(pg/ml)</text>
<text x="593.5" y="387.3" font-size="9.95" font-weight="bold" text-anchor="middle" fill="#101010" textLength="59.5" lengthAdjust="spacingAndGlyphs" stroke="#101010" stroke-width="0.4">Studied groups</text>
<rect x="676.8" y="234.5" width="11.8" height="6.2" rx="0.6" fill="#8b8b8b" stroke="#101010" stroke-width="1.9"/>
<text x="694" y="240.84" font-size="9" font-weight="normal" text-anchor="start" fill="#1a1a1a" textLength="11" lengthAdjust="spacingAndGlyphs" stroke="#1a1a1a" stroke-width="0.2">AA</text>
<rect x="676.8" y="246.7" width="11.8" height="6.2" rx="0.6" fill="url(#checkerL)" stroke="#101010" stroke-width="1.9"/>
<text x="694" y="253.04" font-size="9" font-weight="normal" text-anchor="start" fill="#1a1a1a" textLength="11.4" lengthAdjust="spacingAndGlyphs" stroke="#1a1a1a" stroke-width="0.2">GA</text>
<rect x="676.8" y="260.7" width="11.8" height="6.2" rx="0.6" fill="url(#hwide)" stroke="#101010" stroke-width="1.9"/>
<text x="694" y="267.04" font-size="9" font-weight="normal" text-anchor="start" fill="#1a1a1a" textLength="11.6" lengthAdjust="spacingAndGlyphs" stroke="#1a1a1a" stroke-width="0.2">GG</text>
</g>
<g>
<rect x="146.8" y="484.45" width="10.6" height="75.05" fill="#a0a0a0" stroke="#333" stroke-width="1"/>
<path d="M152.1 484.45 V446.93 M148.4 446.93 H155.8" stroke="#101010" stroke-width="1.25" fill="none"/>
<path d="M152.1 484.45 V521.98" stroke="#3a3a3a" stroke-width="1.2" stroke-dasharray="0.9 0.9" fill="none"/>
<path d="M148.4 521.98 H155.8" stroke="#2a2a2a" stroke-width="1.2" fill="none"/>
<rect x="163.38" y="503.21" width="10.05" height="56.29" fill="url(#checker)" stroke="#101010" stroke-width="1.55"/>
<path d="M168.4 503.21 V451.86 M164.7 451.86 H172.1" stroke="#101010" stroke-width="1.25" fill="none"/>
<path d="M168.4 503.21 V554.56 M164.7 554.56 H172.1" stroke="#222" stroke-width="1.2" fill="none"/>
<rect x="180.08" y="518.02" width="10.05" height="41.48" fill="url(#hfine)" stroke="#101010" stroke-width="1.55"/>
<path d="M185.1 518.02 V478.52 M181.4 478.52 H188.8" stroke="#101010" stroke-width="1.25" fill="none"/>
<path d="M185.1 518.02 V557.52 M181.4 557.52 H188.8" stroke="#222" stroke-width="1.2" fill="none"/>
<rect x="206.5" y="508.15" width="10.6" height="51.35" fill="#a0a0a0" stroke="#333" stroke-width="1"/>
<path d="M211.8 508.15 V488.4 M208.1 488.4 H215.5" stroke="#101010" stroke-width="1.25" fill="none"/>
<path d="M211.8 508.15 V527.9" stroke="#3a3a3a" stroke-width="1.2" stroke-dasharray="0.9 0.9" fill="none"/>
<path d="M208.1 527.9 H215.5" stroke="#2a2a2a" stroke-width="1.2" fill="none"/>
<rect x="222.78" y="504.2" width="10.05" height="55.3" fill="url(#checker)" stroke="#101010" stroke-width="1.55"/>
<path d="M227.8 504.2 V474.57 M224.1 474.57 H231.5" stroke="#101010" stroke-width="1.25" fill="none"/>
<path d="M227.8 504.2 V533.83 M224.1 533.83 H231.5" stroke="#222" stroke-width="1.2" fill="none"/>
<rect x="239.08" y="520" width="10.05" height="39.5" fill="url(#hfine)" stroke="#101010" stroke-width="1.55"/>
<path d="M244.1 520 V486.43 M240.4 486.43 H247.8" stroke="#101010" stroke-width="1.25" fill="none"/>
<path d="M244.1 520 V553.58 M240.4 553.58 H247.8" stroke="#222" stroke-width="1.2" fill="none"/>
<rect x="265.5" y="537.77" width="10.6" height="21.73" fill="#a0a0a0" stroke="#333" stroke-width="1"/>
<path d="M270.8 537.77 V531.85 M267.1 531.85 H274.5" stroke="#101010" stroke-width="1.25" fill="none"/>
<path d="M270.8 537.77 V543.7" stroke="#3a3a3a" stroke-width="1.2" stroke-dasharray="0.9 0.9" fill="none"/>
<path d="M267.1 543.7 H274.5" stroke="#2a2a2a" stroke-width="1.2" fill="none"/>
<rect x="281.97" y="502.23" width="10.05" height="57.27" fill="url(#checker)" stroke="#101010" stroke-width="1.55"/>
<path d="M287 502.23 V476.55 M283.3 476.55 H290.7" stroke="#101010" stroke-width="1.25" fill="none"/>
<path d="M287 502.23 V527.9 M283.3 527.9 H290.7" stroke="#222" stroke-width="1.2" fill="none"/>
<rect x="298.27" y="521.98" width="10.05" height="37.52" fill="url(#hfine)" stroke="#101010" stroke-width="1.55"/>
<path d="M303.3 521.98 V498.27 M299.6 498.27 H307" stroke="#101010" stroke-width="1.25" fill="none"/>
<path d="M303.3 521.98 V545.67 M299.6 545.67 H307" stroke="#222" stroke-width="1.2" fill="none"/>
<path d="M138.8 440.4 V559.5 H317" stroke="#101010" stroke-width="1.3" fill="none"/>
<path d="M135.6 559.5 H138.8" stroke="#101010" stroke-width="1.4"/>
<text x="134.6" y="562.56" font-size="8.5" font-weight="bold" text-anchor="end" fill="#101010" stroke="#101010" stroke-width="0.4">0</text>
<path d="M135.6 520 H138.8" stroke="#101010" stroke-width="1.4"/>
<text x="134.6" y="523.06" font-size="8.5" font-weight="bold" text-anchor="end" fill="#101010" stroke="#101010" stroke-width="0.4">20</text>
<path d="M135.6 480.5 H138.8" stroke="#101010" stroke-width="1.4"/>
<text x="134.6" y="483.56" font-size="8.5" font-weight="bold" text-anchor="end" fill="#101010" stroke="#101010" stroke-width="0.4">40</text>
<path d="M135.6 441 H138.8" stroke="#101010" stroke-width="1.4"/>
<text x="134.6" y="444.06" font-size="8.5" font-weight="bold" text-anchor="end" fill="#101010" stroke="#101010" stroke-width="0.4">60</text>
<path d="M168.6 559.5 V562.9" stroke="#101010" stroke-width="1.4"/>
<text transform="translate(172 571.9) rotate(-45)" font-size="8.9" font-weight="bold" text-anchor="end" fill="#101010" stroke="#101010" stroke-width="0.4">PTB</text>
<path d="M228 559.5 V562.9" stroke="#101010" stroke-width="1.4"/>
<text transform="translate(231.4 571.9) rotate(-45)" font-size="8.9" font-weight="bold" text-anchor="end" fill="#101010" stroke="#101010" stroke-width="0.4">LTBI</text>
<path d="M287 559.5 V562.9" stroke="#101010" stroke-width="1.4"/>
<text transform="translate(290.4 571.9) rotate(-45)" font-size="8.9" font-weight="bold" text-anchor="end" fill="#101010" stroke="#101010" stroke-width="0.4">HC</text>
<text x="197.55" y="426.04" font-size="9.54" font-weight="bold" text-anchor="start" fill="#101010" textLength="45.5" lengthAdjust="spacingAndGlyphs" stroke="#101010" stroke-width="0.4">IL-2(+166)</text>
<text transform="translate(108.28 499.8) rotate(-90)" font-size="9.4" font-weight="bold" text-anchor="middle" fill="#101010" stroke="#101010" stroke-width="0.4">IL-2</text>
<text transform="translate(119.58 500.2) rotate(-90)" font-size="9.4" font-weight="bold" text-anchor="middle" fill="#101010" stroke="#101010" stroke-width="0.4">(pg/ml)</text>
<text x="220.6" y="597.8" font-size="10.01" font-weight="bold" text-anchor="middle" fill="#101010" textLength="71.3" lengthAdjust="spacingAndGlyphs" stroke="#101010" stroke-width="0.4">Studied groups</text>
<rect x="326.4" y="447.8" width="13" height="4.4" rx="0.6" fill="#a0a0a0" stroke="#333" stroke-width="1"/>
<text x="346.3" y="452.59" font-size="7.2" font-weight="normal" text-anchor="start" fill="#808080" textLength="11" lengthAdjust="spacingAndGlyphs">GG</text>
<rect x="326.4" y="460.3" width="13" height="5.4" rx="0.6" fill="url(#checker)" stroke="#101010" stroke-width="1.9"/>
<text x="346.3" y="466.31" font-size="9.2" font-weight="normal" text-anchor="start" fill="#1a1a1a" textLength="12.6" lengthAdjust="spacingAndGlyphs" stroke="#1a1a1a" stroke-width="0.2">GT</text>
<rect x="326.4" y="474.3" width="13" height="5.4" rx="0.6" fill="url(#hfine)" stroke="#101010" stroke-width="1.9"/>
<text x="346.3" y="480.24" font-size="9" font-weight="normal" text-anchor="start" fill="#666" textLength="10" lengthAdjust="spacingAndGlyphs">TT</text>
</g>
<g>
<rect x="418.77" y="540.25" width="9.75" height="15.95" fill="#808080" stroke="#101010" stroke-width="1.55"/>
<path d="M423.65 540.25 V527.2 M420.55 527.2 H426.75" stroke="#101010" stroke-width="1.3" fill="none"/>
<path d="M423.65 540.25 V553.3" stroke="#3a3a3a" stroke-width="1.2" stroke-dasharray="0.9 0.9" fill="none"/>
<path d="M420.55 553.3 H426.75" stroke="#2a2a2a" stroke-width="1.2" fill="none"/>
<rect x="434.57" y="482.25" width="9.75" height="73.95" fill="url(#checker)" stroke="#101010" stroke-width="1.55"/>
<path d="M439.45 482.25 V448.9 M436.35 448.9 H442.55" stroke="#101010" stroke-width="1.3" fill="none"/>
<path d="M439.45 482.25 V515.6 M436.35 515.6 H442.55" stroke="#222" stroke-width="1.2" fill="none"/>
<rect x="450.77" y="530.1" width="9.75" height="26.1" fill="url(#hfine)" stroke="#101010" stroke-width="1.55"/>
<path d="M455.65 530.1 V515.6 M452.55 515.6 H458.75" stroke="#101010" stroke-width="1.3" fill="none"/>
<path d="M455.65 530.1 V544.6 M452.55 544.6 H458.75" stroke="#222" stroke-width="1.2" fill="none"/>
<rect x="476.57" y="538.8" width="9.75" height="17.4" fill="#808080" stroke="#101010" stroke-width="1.55"/>
<path d="M481.45 538.8 V525.75 M478.35 525.75 H484.55" stroke="#101010" stroke-width="1.3" fill="none"/>
<path d="M481.45 538.8 V551.85" stroke="#3a3a3a" stroke-width="1.2" stroke-dasharray="0.9 0.9" fill="none"/>
<path d="M478.35 551.85 H484.55" stroke="#2a2a2a" stroke-width="1.2" fill="none"/>
<rect x="492.57" y="480.8" width="9.75" height="75.4" fill="url(#checker)" stroke="#101010" stroke-width="1.55"/>
<path d="M497.45 480.8 V446 M494.35 446 H500.55" stroke="#101010" stroke-width="1.3" fill="none"/>
<path d="M497.45 480.8 V515.6 M494.35 515.6 H500.55" stroke="#222" stroke-width="1.2" fill="none"/>
<rect x="508.38" y="528.65" width="9.75" height="27.55" fill="url(#hfine)" stroke="#101010" stroke-width="1.55"/>
<path d="M513.25 528.65 V518.5 M510.15 518.5 H516.35" stroke="#101010" stroke-width="1.3" fill="none"/>
<path d="M513.25 528.65 V538.8 M510.15 538.8 H516.35" stroke="#222" stroke-width="1.2" fill="none"/>
<rect x="534.57" y="519.95" width="9.75" height="36.25" fill="#808080" stroke="#101010" stroke-width="1.55"/>
<path d="M539.45 519.95 V501.1 M536.35 501.1 H542.55" stroke="#101010" stroke-width="1.3" fill="none"/>
<path d="M539.45 519.95 V538.8" stroke="#3a3a3a" stroke-width="1.2" stroke-dasharray="0.9 0.9" fill="none"/>
<path d="M536.35 538.8 H542.55" stroke="#2a2a2a" stroke-width="1.2" fill="none"/>
<rect x="550.38" y="534.45" width="9.75" height="21.75" fill="url(#checker)" stroke="#101010" stroke-width="1.55"/>
<path d="M555.25 534.45 V530.1 M552.15 530.1 H558.35" stroke="#101010" stroke-width="1.3" fill="none"/>
<path d="M555.25 534.45 V538.8 M552.15 538.8 H558.35" stroke="#222" stroke-width="1.2" fill="none"/>
<rect x="566.27" y="537.35" width="9.75" height="18.85" fill="url(#hfine)" stroke="#101010" stroke-width="1.55"/>
<path d="M571.15 537.35 V534.45 M568.05 534.45 H574.25" stroke="#101010" stroke-width="1.3" fill="none"/>
<path d="M571.15 537.35 V540.25 M568.05 540.25 H574.25" stroke="#222" stroke-width="1.2" fill="none"/>
<path d="M410.8 439.6 V556.2 H585" stroke="#101010" stroke-width="1.3" fill="none"/>
<path d="M407.6 556.2 H410.8" stroke="#101010" stroke-width="1.4"/>
<text x="406.6" y="559.22" font-size="8.4" font-weight="bold" text-anchor="end" fill="#101010" stroke="#101010" stroke-width="0.4">0</text>
<path d="M407.6 527.2 H410.8" stroke="#101010" stroke-width="1.4"/>
<text x="406.6" y="530.22" font-size="8.4" font-weight="bold" text-anchor="end" fill="#101010" stroke="#101010" stroke-width="0.4">20</text>
<path d="M407.6 498.2 H410.8" stroke="#101010" stroke-width="1.4"/>
<text x="406.6" y="501.22" font-size="8.4" font-weight="bold" text-anchor="end" fill="#101010" stroke="#101010" stroke-width="0.4">40</text>
<path d="M407.6 469.2 H410.8" stroke="#101010" stroke-width="1.4"/>
<text x="406.6" y="472.22" font-size="8.4" font-weight="bold" text-anchor="end" fill="#101010" stroke="#101010" stroke-width="0.4">60</text>
<path d="M407.6 440.2 H410.8" stroke="#101010" stroke-width="1.4"/>
<text x="406.6" y="443.22" font-size="8.4" font-weight="bold" text-anchor="end" fill="#101010" stroke="#101010" stroke-width="0.4">80</text>
<path d="M439.5 556.2 V559.6" stroke="#101010" stroke-width="1.4"/>
<text transform="translate(442.5 569.2) rotate(-45)" font-size="8.45" font-weight="bold" text-anchor="end" fill="#101010" stroke="#101010" stroke-width="0.4">PTB</text>
<path d="M497.5 556.2 V559.6" stroke="#101010" stroke-width="1.4"/>
<text transform="translate(500.5 569.2) rotate(-45)" font-size="8.45" font-weight="bold" text-anchor="end" fill="#101010" stroke="#101010" stroke-width="0.4">LTBI</text>
<path d="M555.3 556.2 V559.6" stroke="#101010" stroke-width="1.4"/>
<text transform="translate(558.3 569.2) rotate(-45)" font-size="8.45" font-weight="bold" text-anchor="end" fill="#101010" stroke="#101010" stroke-width="0.4">HC</text>
<text x="468.7" y="425.93" font-size="9.26" font-weight="bold" text-anchor="start" fill="#101010" textLength="41.8" lengthAdjust="spacingAndGlyphs" stroke="#101010" stroke-width="0.4">IL-2(-330)</text>
<text transform="translate(379.98 498) rotate(-90)" font-size="9.4" font-weight="bold" text-anchor="middle" fill="#101010" stroke="#101010" stroke-width="0.4">IL-2</text>
<text transform="translate(391.98 498.6) rotate(-90)" font-size="9.4" font-weight="bold" text-anchor="middle" fill="#101010" stroke="#101010" stroke-width="0.4">(pg/ml)</text>
<text x="490.3" y="592.3" font-size="9.76" font-weight="bold" text-anchor="middle" fill="#101010" textLength="69.5" lengthAdjust="spacingAndGlyphs" stroke="#101010" stroke-width="0.4">Studied groups</text>
<rect x="593.8" y="447.2" width="13.2" height="5.6" rx="0.6" fill="#808080" stroke="#101010" stroke-width="1.9"/>
<text x="613.8" y="453.17" font-size="8.8" font-weight="normal" text-anchor="start" fill="#1a1a1a" textLength="9.8" lengthAdjust="spacingAndGlyphs" stroke="#1a1a1a" stroke-width="0.2">TT</text>
<rect x="593.8" y="459.2" width="13.2" height="5.6" rx="0.6" fill="url(#checker)" stroke="#101010" stroke-width="1.9"/>
<text x="613.8" y="465.17" font-size="8.8" font-weight="normal" text-anchor="start" fill="#1a1a1a" textLength="11.8" lengthAdjust="spacingAndGlyphs" stroke="#1a1a1a" stroke-width="0.2">TG</text>
<rect x="593.8" y="472.7" width="13.2" height="5.6" rx="0.6" fill="url(#hfine)" stroke="#101010" stroke-width="1.9"/>
<text x="613.8" y="478.67" font-size="8.8" font-weight="normal" text-anchor="start" fill="#1a1a1a" textLength="13.4" lengthAdjust="spacingAndGlyphs" stroke="#1a1a1a" stroke-width="0.2">GG</text>
</g>
<g>
<rect x="158.28" y="692.14" width="9.65" height="56.61" fill="#9c9c9c" stroke="#101010" stroke-width="1.55"/>
<path d="M163.1 692.14 V669.94 M160 669.94 H166.2" stroke="#101010" stroke-width="1.2" fill="none"/>
<path d="M163.1 692.14 V714.34" stroke="#3a3a3a" stroke-width="1.2" stroke-dasharray="0.9 0.9" fill="none"/>
<path d="M160 714.34 H166.2" stroke="#2a2a2a" stroke-width="1.2" fill="none"/>
<rect x="173.38" y="709.9" width="9.65" height="38.85" fill="url(#checkerL)" stroke="#101010" stroke-width="1.55"/>
<path d="M178.2 709.9 V704.35 M175.1 704.35 H181.3" stroke="#101010" stroke-width="1.2" fill="none"/>
<path d="M178.2 709.9 V715.45 M175.1 715.45 H181.3" stroke="#222" stroke-width="1.2" fill="none"/>
<rect x="188.78" y="693.25" width="9.65" height="55.5" fill="url(#hfine)" stroke="#101010" stroke-width="1.55"/>
<path d="M193.6 693.25 V682.15 M190.5 682.15 H196.7" stroke="#101010" stroke-width="1.2" fill="none"/>
<path d="M193.6 693.25 V704.35 M190.5 704.35 H196.7" stroke="#222" stroke-width="1.2" fill="none"/>
<rect x="214.08" y="682.15" width="9.65" height="66.6" fill="#9c9c9c" stroke="#101010" stroke-width="1.55"/>
<path d="M218.9 682.15 V662.73 M215.8 662.73 H222" stroke="#101010" stroke-width="1.2" fill="none"/>
<path d="M218.9 682.15 V701.58" stroke="#3a3a3a" stroke-width="1.2" stroke-dasharray="0.9 0.9" fill="none"/>
<path d="M215.8 701.58 H222" stroke="#2a2a2a" stroke-width="1.2" fill="none"/>
<rect x="229.08" y="729.33" width="9.65" height="19.42" fill="url(#checkerL)" stroke="#101010" stroke-width="1.55"/>
<path d="M233.9 729.33 V718.23 M230.8 718.23 H237" stroke="#101010" stroke-width="1.2" fill="none"/>
<path d="M233.9 729.33 V740.42 M230.8 740.42 H237" stroke="#222" stroke-width="1.2" fill="none"/>
<rect x="244.58" y="682.15" width="9.65" height="66.6" fill="url(#hfine)" stroke="#101010" stroke-width="1.55"/>
<path d="M249.4 682.15 V669.94 M246.3 669.94 H252.5" stroke="#101010" stroke-width="1.2" fill="none"/>
<path d="M249.4 682.15 V694.36 M246.3 694.36 H252.5" stroke="#222" stroke-width="1.2" fill="none"/>
<rect x="269.57" y="676.6" width="9.65" height="72.15" fill="#9c9c9c" stroke="#101010" stroke-width="1.55"/>
<path d="M274.4 676.6 V659.95 M271.3 659.95 H277.5" stroke="#101010" stroke-width="1.2" fill="none"/>
<path d="M274.4 676.6 V693.25" stroke="#3a3a3a" stroke-width="1.2" stroke-dasharray="0.9 0.9" fill="none"/>
<path d="M271.3 693.25 H277.5" stroke="#2a2a2a" stroke-width="1.2" fill="none"/>
<rect x="285.07" y="659.95" width="9.65" height="88.8" fill="url(#checkerL)" stroke="#101010" stroke-width="1.55"/>
<path d="M289.9 659.95 V643.3 M286.8 643.3 H293" stroke="#101010" stroke-width="1.2" fill="none"/>
<path d="M289.9 659.95 V676.6 M286.8 676.6 H293" stroke="#222" stroke-width="1.2" fill="none"/>
<rect x="300.07" y="673.83" width="9.65" height="74.92" fill="url(#hfine)" stroke="#101010" stroke-width="1.55"/>
<path d="M304.9 673.83 V659.95 M301.8 659.95 H308" stroke="#101010" stroke-width="1.2" fill="none"/>
<path d="M304.9 673.83 V687.7 M301.8 687.7 H308" stroke="#222" stroke-width="1.2" fill="none"/>
<path d="M150 637.15 V748.75 H318.8" stroke="#101010" stroke-width="1.3" fill="none"/>
<path d="M146.8 748.75 H150" stroke="#101010" stroke-width="1.4"/>
<text x="145.8" y="751.49" font-size="7.6" font-weight="bold" text-anchor="end" fill="#101010" stroke="#101010" stroke-width="0.4">0</text>
<path d="M146.8 721 H150" stroke="#101010" stroke-width="1.4"/>
<text x="145.8" y="723.74" font-size="7.6" font-weight="bold" text-anchor="end" fill="#101010" stroke="#101010" stroke-width="0.4">500</text>
<path d="M146.8 693.25 H150" stroke="#101010" stroke-width="1.4"/>
<text x="145.8" y="695.99" font-size="7.6" font-weight="bold" text-anchor="end" fill="#101010" stroke="#101010" stroke-width="0.4">1000</text>
<path d="M146.8 665.5 H150" stroke="#101010" stroke-width="1.4"/>
<text x="145.8" y="668.24" font-size="7.6" font-weight="bold" text-anchor="end" fill="#101010" stroke="#101010" stroke-width="0.4">1500</text>
<path d="M146.8 637.75 H150" stroke="#101010" stroke-width="1.4"/>
<text x="145.8" y="640.49" font-size="7.6" font-weight="bold" text-anchor="end" fill="#101010" stroke="#101010" stroke-width="0.4">2000</text>
<path d="M178.3 748.75 V752.15" stroke="#101010" stroke-width="1.4"/>
<text transform="translate(181.3 760.45) rotate(-45)" font-size="8.2" font-weight="bold" text-anchor="end" fill="#101010" stroke="#101010" stroke-width="0.4">PTB</text>
<path d="M234.3 748.75 V752.15" stroke="#101010" stroke-width="1.4"/>
<text transform="translate(237.3 760.45) rotate(-45)" font-size="8.2" font-weight="bold" text-anchor="end" fill="#101010" stroke="#101010" stroke-width="0.4">LTBI</text>
<path d="M289.5 748.75 V752.15" stroke="#101010" stroke-width="1.4"/>
<text transform="translate(292.5 760.45) rotate(-45)" font-size="8.2" font-weight="bold" text-anchor="end" fill="#101010" stroke="#101010" stroke-width="0.4">HC</text>
<text x="200.05" y="623.76" font-size="8.76" font-weight="bold" text-anchor="start" fill="#101010" textLength="44.5" lengthAdjust="spacingAndGlyphs" stroke="#101010" stroke-width="0.4">IL-10(-819)</text>
<text transform="translate(112.24 693.5) rotate(-90)" font-size="9" font-weight="bold" text-anchor="middle" fill="#101010" stroke="#101010" stroke-width="0.4">IL-10</text>
<text transform="translate(123.44 693) rotate(-90)" font-size="9" font-weight="bold" text-anchor="middle" fill="#101010" stroke="#101010" stroke-width="0.4">(pg/ml)</text>
<text x="226.9" y="782.6" font-size="9.31" font-weight="bold" text-anchor="middle" fill="#101010" textLength="66.3" lengthAdjust="spacingAndGlyphs" stroke="#101010" stroke-width="0.4">Studied groups</text>
<clipPath id="clip7"><rect x="0" y="0" width="357.6" height="992"/></clipPath>
<rect x="327" y="644.2" width="12.4" height="5.6" rx="0.6" fill="#9c9c9c" stroke="#101010" stroke-width="1.5"/>
<text x="345.5" y="650.17" font-size="8.8" font-weight="normal" text-anchor="start" fill="#444" textLength="12.4" lengthAdjust="spacingAndGlyphs" clip-path="url(#clip7)" stroke="#444" stroke-width="0.2">AA</text>
<rect x="327" y="656" width="12.4" height="5.6" rx="0.6" fill="url(#checkerL)" stroke="#101010" stroke-width="1.5"/>
<text x="345.5" y="661.97" font-size="8.8" font-weight="normal" text-anchor="start" fill="#444" textLength="13" lengthAdjust="spacingAndGlyphs" clip-path="url(#clip7)" stroke="#444" stroke-width="0.2">AG</text>
<rect x="327" y="668.5" width="12.4" height="5.6" rx="0.6" fill="url(#hfine)" stroke="#101010" stroke-width="1.5"/>
<text x="345.5" y="674.47" font-size="8.8" font-weight="normal" text-anchor="start" fill="#666" textLength="13.6" lengthAdjust="spacingAndGlyphs" clip-path="url(#clip7)">GG</text>
</g>
<g>
<rect x="418.77" y="708.44" width="8.85" height="39.06" fill="#9c9c9c" stroke="#101010" stroke-width="1.55"/>
<path d="M423.2 708.44 V704.1 M420.1 704.1 H426.3" stroke="#101010" stroke-width="1.25" fill="none"/>
<path d="M423.2 708.44 V712.78" stroke="#3a3a3a" stroke-width="1.2" stroke-dasharray="0.9 0.9" fill="none"/>
<path d="M420.1 712.78 H426.3" stroke="#2a2a2a" stroke-width="1.2" fill="none"/>
<rect x="434.07" y="719.29" width="8.85" height="28.21" fill="url(#checkerL)" stroke="#101010" stroke-width="1.55"/>
<path d="M438.5 719.29 V710.61 M435.4 710.61 H441.6" stroke="#101010" stroke-width="1.25" fill="none"/>
<path d="M438.5 719.29 V727.97 M435.4 727.97 H441.6" stroke="#222" stroke-width="1.2" fill="none"/>
<rect x="448.77" y="726.67" width="8.85" height="20.83" fill="url(#hfine)" stroke="#101010" stroke-width="1.55"/>
<path d="M453.2 726.67 V709.31 M450.1 709.31 H456.3" stroke="#101010" stroke-width="1.25" fill="none"/>
<path d="M453.2 726.67 V744.03 M450.1 744.03 H456.3" stroke="#222" stroke-width="1.2" fill="none"/>
<rect x="473.57" y="743.16" width="8.85" height="4.34" fill="#9c9c9c" stroke="#101010" stroke-width="1.55"/>
<path d="M478 743.16 V741.86 M474.9 741.86 H481.1" stroke="#101010" stroke-width="1.25" fill="none"/>
<path d="M478 743.16 V744.46" stroke="#3a3a3a" stroke-width="1.2" stroke-dasharray="0.9 0.9" fill="none"/>
<path d="M474.9 744.46 H481.1" stroke="#2a2a2a" stroke-width="1.2" fill="none"/>
<rect x="488.57" y="675.89" width="8.85" height="71.61" fill="url(#checkerL)" stroke="#101010" stroke-width="1.55"/>
<path d="M493 675.89 V668.08 M489.9 668.08 H496.1" stroke="#101010" stroke-width="1.25" fill="none"/>
<path d="M493 675.89 V683.7 M489.9 683.7 H496.1" stroke="#222" stroke-width="1.2" fill="none"/>
<rect x="503.38" y="717.99" width="8.85" height="29.51" fill="url(#hfine)" stroke="#101010" stroke-width="1.55"/>
<path d="M507.8 717.99 V701.5 M504.7 701.5 H510.9" stroke="#101010" stroke-width="1.25" fill="none"/>
<path d="M507.8 717.99 V734.48 M504.7 734.48 H510.9" stroke="#222" stroke-width="1.2" fill="none"/>
<rect x="528.07" y="684.57" width="8.85" height="62.93" fill="#9c9c9c" stroke="#101010" stroke-width="1.55"/>
<path d="M532.5 684.57 V658.53 M529.4 658.53 H535.6" stroke="#101010" stroke-width="1.25" fill="none"/>
<path d="M532.5 684.57 V710.61" stroke="#3a3a3a" stroke-width="1.2" stroke-dasharray="0.9 0.9" fill="none"/>
<path d="M529.4 710.61 H535.6" stroke="#2a2a2a" stroke-width="1.2" fill="none"/>
<rect x="542.77" y="675.89" width="8.85" height="71.61" fill="url(#checkerL)" stroke="#101010" stroke-width="1.55"/>
<path d="M547.2 675.89 V670.68 M544.1 670.68 H550.3" stroke="#101010" stroke-width="1.25" fill="none"/>
<path d="M547.2 675.89 V681.1 M544.1 681.1 H550.3" stroke="#222" stroke-width="1.2" fill="none"/>
<rect x="557.47" y="710.18" width="8.85" height="37.32" fill="url(#hfine)" stroke="#101010" stroke-width="1.55"/>
<path d="M561.9 710.18 V701.5 M558.8 701.5 H565" stroke="#101010" stroke-width="1.25" fill="none"/>
<path d="M561.9 710.18 V718.86 M558.8 718.86 H565" stroke="#222" stroke-width="1.2" fill="none"/>
<path d="M411.1 638.4 V747.5 H573.8" stroke="#101010" stroke-width="1.3" fill="none"/>
<path d="M407.9 747.5 H411.1" stroke="#101010" stroke-width="1.4"/>
<text x="408.3" y="750.24" font-size="7.6" font-weight="bold" text-anchor="end" fill="#101010" stroke="#101010" stroke-width="0.4">0</text>
<path d="M407.9 725.8 H411.1" stroke="#101010" stroke-width="1.4"/>
<text x="408.3" y="728.54" font-size="7.6" font-weight="bold" text-anchor="end" fill="#101010" stroke="#101010" stroke-width="0.4">500</text>
<path d="M407.9 704.1 H411.1" stroke="#101010" stroke-width="1.4"/>
<text x="408.3" y="706.84" font-size="7.6" font-weight="bold" text-anchor="end" fill="#101010" stroke="#101010" stroke-width="0.4">1000</text>
<path d="M407.9 682.4 H411.1" stroke="#101010" stroke-width="1.4"/>
<text x="408.3" y="685.14" font-size="7.6" font-weight="bold" text-anchor="end" fill="#101010" stroke="#101010" stroke-width="0.4">1500</text>
<path d="M407.9 660.7 H411.1" stroke="#101010" stroke-width="1.4"/>
<text x="408.3" y="663.44" font-size="7.6" font-weight="bold" text-anchor="end" fill="#101010" stroke="#101010" stroke-width="0.4">2000</text>
<path d="M407.9 639 H411.1" stroke="#101010" stroke-width="1.4"/>
<text x="408.3" y="641.74" font-size="7.6" font-weight="bold" text-anchor="end" fill="#101010" stroke="#101010" stroke-width="0.4">2500</text>
<path d="M438 747.5 V750.9" stroke="#101010" stroke-width="1.4"/>
<text transform="translate(440.75 760.4) rotate(-45)" font-size="8.2" font-weight="bold" text-anchor="end" fill="#101010" stroke="#101010" stroke-width="0.4">PTB</text>
<path d="M492.5 747.5 V750.9" stroke="#101010" stroke-width="1.4"/>
<text transform="translate(495.25 760.4) rotate(-45)" font-size="8.2" font-weight="bold" text-anchor="end" fill="#101010" stroke="#101010" stroke-width="0.4">LTBI</text>
<path d="M546.3 747.5 V750.9" stroke="#101010" stroke-width="1.4"/>
<text transform="translate(549.05 760.4) rotate(-45)" font-size="8.2" font-weight="bold" text-anchor="end" fill="#101010" stroke="#101010" stroke-width="0.4">HC</text>
<text x="456.3" y="625.79" font-size="8.86" font-weight="bold" text-anchor="start" fill="#101010" textLength="50" lengthAdjust="spacingAndGlyphs" stroke="#101010" stroke-width="0.4">IL-10(-1082)</text>
<text transform="translate(374.14 693.6) rotate(-90)" font-size="9" font-weight="bold" text-anchor="middle" fill="#101010" stroke="#101010" stroke-width="0.4">IL-10</text>
<text transform="translate(385.34 693) rotate(-90)" font-size="9" font-weight="bold" text-anchor="middle" fill="#101010" stroke="#101010" stroke-width="0.4">(pg/ml)</text>
<text x="485.6" y="781.4" font-size="9.1" font-weight="bold" text-anchor="middle" fill="#101010" textLength="64.8" lengthAdjust="spacingAndGlyphs" stroke="#101010" stroke-width="0.4">Studied groups</text>
<rect x="581.8" y="642.1" width="12.6" height="5.8" rx="0.6" fill="#9c9c9c" stroke="#101010" stroke-width="1.5"/>
<text x="600.5" y="648.17" font-size="8.8" font-weight="normal" text-anchor="start" fill="#444" textLength="12.4" lengthAdjust="spacingAndGlyphs" stroke="#444" stroke-width="0.2">AA</text>
<rect x="581.8" y="656.6" width="12.6" height="5.8" rx="0.6" fill="url(#checkerL)" stroke="#101010" stroke-width="1.5"/>
<text x="600.5" y="662.67" font-size="8.8" font-weight="normal" text-anchor="start" fill="#444" textLength="13" lengthAdjust="spacingAndGlyphs" stroke="#444" stroke-width="0.2">AG</text>
<rect x="581.8" y="669.1" width="12.6" height="5.8" rx="0.6" fill="url(#hfine)" stroke="#101010" stroke-width="1.5"/>
<text x="600.5" y="675.17" font-size="8.8" font-weight="normal" text-anchor="start" fill="#444" textLength="13.6" lengthAdjust="spacingAndGlyphs" stroke="#444" stroke-width="0.2">GG</text>
</g>
<g>
<rect x="176.58" y="908.3" width="9.45" height="44.8" fill="#9c9c9c" stroke="#101010" stroke-width="1.55"/>
<path d="M181.3 908.3 V866.3 M178.2 866.3 H184.4" stroke="#101010" stroke-width="1.15" fill="none"/>
<path d="M181.3 908.3 V950.3" stroke="#3a3a3a" stroke-width="1.15" stroke-dasharray="0.9 0.9" fill="none"/>
<path d="M178.2 950.3 H184.4" stroke="#2a2a2a" stroke-width="1.15" fill="none"/>
<rect x="191.28" y="944.7" width="9.45" height="8.4" fill="url(#checkerL)" stroke="#101010" stroke-width="1.55"/>
<path d="M196 944.7 V939.1 M192.9 939.1 H199.1" stroke="#101010" stroke-width="1.15" fill="none"/>
<path d="M196 944.7 V950.3 M192.9 950.3 H199.1" stroke="#222" stroke-width="1.15" fill="none"/>
<rect x="205.97" y="925.1" width="9.45" height="28" fill="url(#hfine)" stroke="#101010" stroke-width="1.55"/>
<path d="M210.7 925.1 V905.5 M207.6 905.5 H213.8" stroke="#101010" stroke-width="1.15" fill="none"/>
<path d="M210.7 925.1 V944.7 M207.6 944.7 H213.8" stroke="#222" stroke-width="1.15" fill="none"/>
<rect x="230.97" y="911.1" width="9.45" height="42" fill="#9c9c9c" stroke="#101010" stroke-width="1.55"/>
<path d="M235.7 911.1 V871.9 M232.6 871.9 H238.8" stroke="#101010" stroke-width="1.15" fill="none"/>
<path d="M235.7 911.1 V950.3" stroke="#3a3a3a" stroke-width="1.15" stroke-dasharray="0.9 0.9" fill="none"/>
<path d="M232.6 950.3 H238.8" stroke="#2a2a2a" stroke-width="1.15" fill="none"/>
<rect x="245.78" y="925.1" width="9.45" height="28" fill="url(#checkerL)" stroke="#101010" stroke-width="1.55"/>
<path d="M250.5 925.1 V902.7 M247.4 902.7 H253.6" stroke="#101010" stroke-width="1.15" fill="none"/>
<path d="M250.5 925.1 V947.5 M247.4 947.5 H253.6" stroke="#222" stroke-width="1.15" fill="none"/>
<rect x="260.38" y="927.9" width="9.45" height="25.2" fill="url(#hfine)" stroke="#101010" stroke-width="1.55"/>
<path d="M265.1 927.9 V913.9 M262 913.9 H268.2" stroke="#101010" stroke-width="1.15" fill="none"/>
<path d="M265.1 927.9 V941.9 M262 941.9 H268.2" stroke="#222" stroke-width="1.15" fill="none"/>
<rect x="300.07" y="894.3" width="9.45" height="58.8" fill="url(#checkerL)" stroke="#101010" stroke-width="1.55"/>
<path d="M304.8 894.3 V857.9 M301.7 857.9 H307.9" stroke="#101010" stroke-width="1.15" fill="none"/>
<path d="M304.8 894.3 V930.7 M301.7 930.7 H307.9" stroke="#222" stroke-width="1.15" fill="none"/>
<rect x="314.97" y="930.7" width="9.45" height="22.4" fill="url(#hfine)" stroke="#101010" stroke-width="1.55"/>
<path d="M319.7 930.7 V922.3 M316.6 922.3 H322.8" stroke="#101010" stroke-width="1.15" fill="none"/>
<path d="M319.7 930.7 V939.1 M316.6 939.1 H322.8" stroke="#222" stroke-width="1.15" fill="none"/>
<path d="M168.6 840.5 V953.1 H332.5" stroke="#101010" stroke-width="1.3" fill="none"/>
<path d="M165.4 953.1 H168.6" stroke="#101010" stroke-width="1.4"/>
<text x="164.4" y="955.84" font-size="7.6" font-weight="bold" text-anchor="end" fill="#101010" stroke="#101010" stroke-width="0.4">0</text>
<path d="M165.4 925.1 H168.6" stroke="#101010" stroke-width="1.4"/>
<text x="164.4" y="927.84" font-size="7.6" font-weight="bold" text-anchor="end" fill="#101010" stroke="#101010" stroke-width="0.4">10</text>
<path d="M165.4 897.1 H168.6" stroke="#101010" stroke-width="1.4"/>
<text x="164.4" y="899.84" font-size="7.6" font-weight="bold" text-anchor="end" fill="#101010" stroke="#101010" stroke-width="0.4">20</text>
<path d="M165.4 869.1 H168.6" stroke="#101010" stroke-width="1.4"/>
<text x="164.4" y="871.84" font-size="7.6" font-weight="bold" text-anchor="end" fill="#101010" stroke="#101010" stroke-width="0.4">30</text>
<path d="M165.4 841.1 H168.6" stroke="#101010" stroke-width="1.4"/>
<text x="164.4" y="843.84" font-size="7.6" font-weight="bold" text-anchor="end" fill="#101010" stroke="#101010" stroke-width="0.4">40</text>
<path d="M195.8 953.1 V956.5" stroke="#101010" stroke-width="1.4"/>
<text transform="translate(198.8 964.3) rotate(-45)" font-size="7.8" font-weight="bold" text-anchor="end" fill="#101010" stroke="#101010" stroke-width="0.4">PTB</text>
<path d="M250.5 953.1 V956.5" stroke="#101010" stroke-width="1.4"/>
<text transform="translate(253.5 964.3) rotate(-45)" font-size="7.8" font-weight="bold" text-anchor="end" fill="#101010" stroke="#101010" stroke-width="0.4">LTBI</text>
<path d="M305 953.1 V956.5" stroke="#101010" stroke-width="1.4"/>
<text transform="translate(308 964.3) rotate(-45)" font-size="7.8" font-weight="bold" text-anchor="end" fill="#101010" stroke="#101010" stroke-width="0.4">HC</text>
<text x="220.75" y="827.12" font-size="8.68" font-weight="bold" text-anchor="start" fill="#101010" textLength="45.5" lengthAdjust="spacingAndGlyphs" stroke="#101010" stroke-width="0.4">IL-4(VNTR)</text>
<text transform="translate(139.64 897) rotate(-90)" font-size="9" font-weight="bold" text-anchor="middle" fill="#101010" stroke="#101010" stroke-width="0.4">IL-2</text>
<text transform="translate(150.94 896.7) rotate(-90)" font-size="9" font-weight="bold" text-anchor="middle" fill="#101010" stroke="#101010" stroke-width="0.4">(pg/ml)</text>
<text x="244.1" y="987.2" font-size="9.24" font-weight="bold" text-anchor="middle" fill="#101010" textLength="65.8" lengthAdjust="spacingAndGlyphs" stroke="#101010" stroke-width="0.4">Studied groups</text>
<rect x="340.8" y="846.5" width="12.4" height="5.6" rx="0.6" fill="#9c9c9c" stroke="#101010" stroke-width="1.5"/>
<text x="360" y="852.4" font-size="8.6" font-weight="normal" text-anchor="start" fill="#666" textLength="23.8" lengthAdjust="spacingAndGlyphs">B1/B1</text>
<rect x="340.8" y="859.7" width="12.4" height="5.6" rx="0.6" fill="url(#checkerL)" stroke="#101010" stroke-width="1.5"/>
<text x="360" y="865.6" font-size="8.6" font-weight="normal" text-anchor="start" fill="#666" textLength="23.8" lengthAdjust="spacingAndGlyphs">B1/B2</text>
<rect x="340.8" y="872.7" width="12.4" height="5.6" rx="0.6" fill="url(#hfine)" stroke="#101010" stroke-width="1.5"/>
<text x="360" y="878.6" font-size="8.6" font-weight="normal" text-anchor="start" fill="#666" textLength="23.8" lengthAdjust="spacingAndGlyphs">B2/B2</text>
</g>
<g>
<rect x="442.3" y="876.63" width="8.7" height="75.77" fill="#8b8b8b" stroke="#101010" stroke-width="1.6"/>
<path d="M446.65 876.63 V870.84 M443.6 870.84 H449.7" stroke="#101010" stroke-width="1.6" fill="none"/>
<path d="M446.65 876.63 V882.43" stroke="#3a3a3a" stroke-width="1.2" stroke-dasharray="0.9 0.9" fill="none"/>
<path d="M443.6 882.43 H449.7" stroke="#2a2a2a" stroke-width="1.2" fill="none"/>
<rect x="456.3" y="874.4" width="8.7" height="78" fill="url(#checkerL)" stroke="#101010" stroke-width="1.6"/>
<path d="M460.65 874.4 V865.04 M457.6 865.04 H463.7" stroke="#101010" stroke-width="1.6" fill="none"/>
<path d="M460.65 874.4 V883.76 M457.6 883.76 H463.7" stroke="#222" stroke-width="1.2" fill="none"/>
<rect x="470.5" y="893.57" width="8.7" height="58.83" fill="url(#hwide)" stroke="#101010" stroke-width="1.6"/>
<path d="M474.85 893.57 V883.76 M471.8 883.76 H477.9" stroke="#101010" stroke-width="1.6" fill="none"/>
<path d="M474.85 893.57 V903.37 M471.8 903.37 H477.9" stroke="#222" stroke-width="1.2" fill="none"/>
<rect x="494.5" y="892.23" width="8.7" height="60.17" fill="#8b8b8b" stroke="#101010" stroke-width="1.6"/>
<path d="M498.85 892.23 V886.88 M495.8 886.88 H501.9" stroke="#101010" stroke-width="1.6" fill="none"/>
<path d="M498.85 892.23 V897.58" stroke="#3a3a3a" stroke-width="1.2" stroke-dasharray="0.9 0.9" fill="none"/>
<path d="M495.8 897.58 H501.9" stroke="#2a2a2a" stroke-width="1.2" fill="none"/>
<rect x="508.3" y="878.86" width="8.7" height="73.54" fill="url(#checkerL)" stroke="#101010" stroke-width="1.6"/>
<path d="M512.65 878.86 V870.84 M509.6 870.84 H515.7" stroke="#101010" stroke-width="1.6" fill="none"/>
<path d="M512.65 878.86 V886.88 M509.6 886.88 H515.7" stroke="#222" stroke-width="1.2" fill="none"/>
<rect x="522.4" y="943.49" width="8.7" height="8.91" fill="url(#hwide)" stroke="#101010" stroke-width="1.6"/>
<path d="M526.75 943.49 V935.91 M523.7 935.91 H529.8" stroke="#101010" stroke-width="1.6" fill="none"/>
<path d="M526.75 943.49 V951.06 M523.7 951.06 H529.8" stroke="#222" stroke-width="1.2" fill="none"/>
<rect x="546.1" y="903.37" width="8.7" height="49.03" fill="#8b8b8b" stroke="#101010" stroke-width="1.6"/>
<path d="M550.45 903.37 V898.47 M547.4 898.47 H553.5" stroke="#101010" stroke-width="1.6" fill="none"/>
<path d="M550.45 903.37 V908.28" stroke="#3a3a3a" stroke-width="1.2" stroke-dasharray="0.9 0.9" fill="none"/>
<path d="M547.4 908.28 H553.5" stroke="#2a2a2a" stroke-width="1.2" fill="none"/>
<rect x="560.2" y="887.77" width="8.7" height="64.63" fill="url(#checkerL)" stroke="#101010" stroke-width="1.6"/>
<path d="M564.55 887.77 V884.21 M561.5 884.21 H567.6" stroke="#101010" stroke-width="1.6" fill="none"/>
<path d="M564.55 887.77 V891.34 M561.5 891.34 H567.6" stroke="#222" stroke-width="1.2" fill="none"/>
<rect x="574" y="948.83" width="8.7" height="3.57" fill="url(#hwide)" stroke="#101010" stroke-width="1.6"/>
<path d="M578.35 948.83 V945.27 M575.3 945.27 H581.4" stroke="#101010" stroke-width="1.6" fill="none"/>
<path d="M578.35 948.83 V952.4 M575.3 952.4 H581.4" stroke="#222" stroke-width="1.2" fill="none"/>
<path d="M434.6 840.38 V952.4 H590.3" stroke="#101010" stroke-width="1.3" fill="none"/>
<path d="M431.4 952.4 H434.6" stroke="#101010" stroke-width="1.4"/>
<text x="431.1" y="955.21" font-size="7.8" font-weight="bold" text-anchor="end" fill="#101010" stroke="#101010" stroke-width="0.4">0</text>
<path d="M431.4 930.12 H434.6" stroke="#101010" stroke-width="1.4"/>
<text x="431.1" y="932.92" font-size="7.8" font-weight="bold" text-anchor="end" fill="#101010" stroke="#101010" stroke-width="0.4">50</text>
<path d="M431.4 907.83 H434.6" stroke="#101010" stroke-width="1.4"/>
<text x="431.1" y="910.64" font-size="7.8" font-weight="bold" text-anchor="end" fill="#101010" stroke="#101010" stroke-width="0.4">100</text>
<path d="M431.4 885.54 H434.6" stroke="#101010" stroke-width="1.4"/>
<text x="431.1" y="888.35" font-size="7.8" font-weight="bold" text-anchor="end" fill="#101010" stroke="#101010" stroke-width="0.4">150</text>
<path d="M431.4 863.26 H434.6" stroke="#101010" stroke-width="1.4"/>
<text x="431.1" y="866.07" font-size="7.8" font-weight="bold" text-anchor="end" fill="#101010" stroke="#101010" stroke-width="0.4">200</text>
<path d="M431.4 840.98 H434.6" stroke="#101010" stroke-width="1.4"/>
<text x="431.1" y="843.78" font-size="7.8" font-weight="bold" text-anchor="end" fill="#101010" stroke="#101010" stroke-width="0.4">250</text>
<path d="M460.5 952.4 V955.8" stroke="#101010" stroke-width="1.4"/>
<text transform="translate(463 962.7) rotate(-45)" font-size="7.4" font-weight="bold" text-anchor="end" fill="#101010" stroke="#101010" stroke-width="0.4">PTB</text>
<path d="M512 952.4 V955.8" stroke="#101010" stroke-width="1.4"/>
<text transform="translate(514.5 962.7) rotate(-45)" font-size="7.4" font-weight="bold" text-anchor="end" fill="#101010" stroke="#101010" stroke-width="0.4">LTBI</text>
<path d="M563.6 952.4 V955.8" stroke="#101010" stroke-width="1.4"/>
<text transform="translate(566.1 962.7) rotate(-45)" font-size="7.4" font-weight="bold" text-anchor="end" fill="#101010" stroke="#101010" stroke-width="0.4">HC</text>
<text x="493.25" y="826.99" font-size="8.31" font-weight="bold" text-anchor="start" fill="#101010" textLength="37.5" lengthAdjust="spacingAndGlyphs" stroke="#101010" stroke-width="0.4">IL-6(-174)</text>
<text transform="translate(405.95 897) rotate(-90)" font-size="8.2" font-weight="bold" text-anchor="middle" fill="#101010" textLength="15.5" lengthAdjust="spacing" stroke="#101010" stroke-width="0.4">IL-6</text>
<text transform="translate(415.85 898.7) rotate(-90)" font-size="8.2" font-weight="bold" text-anchor="middle" fill="#101010" textLength="33" lengthAdjust="spacing" stroke="#101010" stroke-width="0.4">(ng/ml)</text>
<text x="511.9" y="986.6" font-size="8.75" font-weight="bold" text-anchor="middle" fill="#101010" textLength="62.3" lengthAdjust="spacingAndGlyphs" stroke="#101010" stroke-width="0.4">Studied groups</text>
<rect x="597.8" y="847.2" width="12" height="5.6" rx="0.6" fill="#8b8b8b" stroke="#101010" stroke-width="1.9"/>
<text x="616" y="853.17" font-size="8.8" font-weight="normal" text-anchor="start" fill="#1a1a1a" textLength="8.6" lengthAdjust="spacingAndGlyphs" stroke="#1a1a1a" stroke-width="0.2">TT</text>
<rect x="597.8" y="859.2" width="12" height="5.6" rx="0.6" fill="url(#checkerL)" stroke="#101010" stroke-width="1.9"/>
<text x="616" y="865.17" font-size="8.8" font-weight="normal" text-anchor="start" fill="#1a1a1a" textLength="11.4" lengthAdjust="spacingAndGlyphs" stroke="#1a1a1a" stroke-width="0.2">GC</text>
<rect x="597.8" y="872.2" width="12" height="5.6" rx="0.6" fill="url(#hwide)" stroke="#101010" stroke-width="1.9"/>
<text x="616" y="878.17" font-size="8.8" font-weight="normal" text-anchor="start" fill="#1a1a1a" textLength="11.4" lengthAdjust="spacingAndGlyphs" stroke="#1a1a1a" stroke-width="0.2">CC</text>
</g>
</g>
</svg>
</body>
</html>
